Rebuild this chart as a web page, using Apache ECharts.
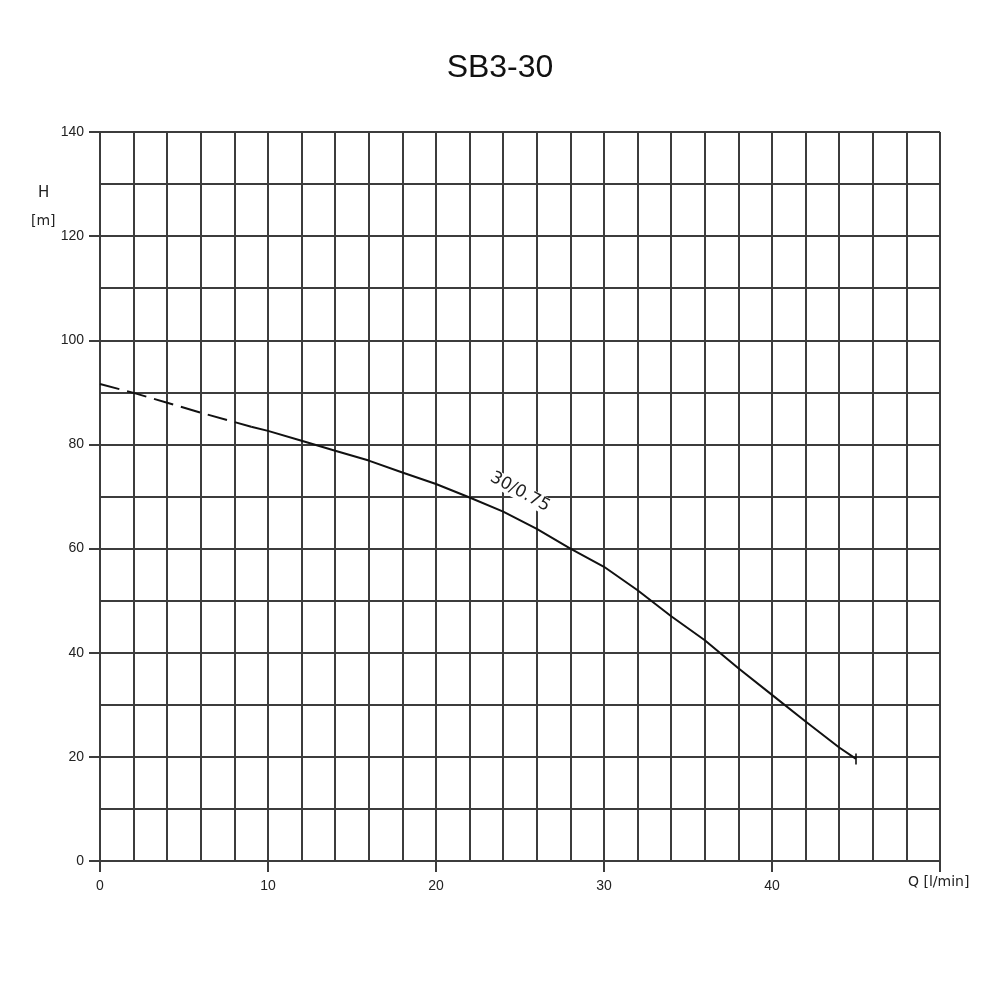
<!DOCTYPE html>
<html>
<head>
<meta charset="utf-8">
<script src="https://cdn.jsdelivr.net/npm/echarts@6/dist/echarts.min.js"></script>
<style>
  html, body { margin: 0; padding: 0; background: #fff; }
  #chart { width: 1000px; height: 1000px; }
</style>
</head>
<body>
<div id="chart"></div>
<script>
// pump curve SB3-30, flow Q in l/min, head H in m
const flowDashed = [0, 2, 4, 6, 8, 9];
const headDashed = [91.6, 89.9, 88.0, 86.1, 84.3, 83.4];
const flowSolid = [9, 10, 12, 14, 16, 18, 20, 22, 24, 26, 28, 30, 32, 34, 36, 38, 40, 42, 44, 45];
const headSolid = [83.4, 82.6, 80.7, 78.8, 76.9, 74.6, 72.4, 69.8, 67.1, 63.8, 60.0, 56.5, 52.0, 47.0, 42.4, 37.0, 31.9, 26.8, 21.8, 19.6];
const endPoint = [45, 19.6];
const xTicks = [0, 10, 20, 30, 40];
const yTicks = [0, 20, 40, 60, 80, 100, 120, 140];

const gridLine = { color: '#3c3c3c', width: 2 };
const labelFont = { color: '#222', fontSize: 14, fontFamily: 'Liberation Sans' };

const chart = echarts.init(document.getElementById('chart'));

const zip = (xs, ys) => xs.map((x, i) => [x, ys[i]]);

chart.setOption({
  backgroundColor: '#fff',
  animation: false,
  title: {
    text: 'SB3-30',
    left: 'center',
    top: 47,
    textStyle: { fontFamily: 'Liberation Sans', fontSize: 32, fontWeight: 'normal', color: '#111' }
  },
  grid: { left: 100, right: 60, top: 132, bottom: 139 },
  xAxis: {
    type: 'value',
    min: 0,
    max: 50,
    interval: 10,
    axisLine: { show: true, onZero: false, lineStyle: gridLine },
    axisTick: { show: true, length: 11, lineStyle: gridLine },
    axisLabel: Object.assign({
      margin: 18,
      formatter: v => (xTicks.indexOf(v) >= 0 ? String(v) : '')
    }, labelFont),
    splitLine: { show: true, lineStyle: gridLine },
    minorTick: { show: false, splitNumber: 5 },
    minorSplitLine: { show: true, lineStyle: gridLine }
  },
  yAxis: {
    type: 'value',
    min: 0,
    max: 140,
    interval: 20,
    axisLine: { show: true, onZero: false, lineStyle: gridLine },
    axisTick: { show: true, length: 11, lineStyle: gridLine },
    axisLabel: Object.assign({
      margin: 16,
      formatter: v => (yTicks.indexOf(v) >= 0 ? String(v) : '')
    }, labelFont),
    splitLine: { show: true, lineStyle: gridLine },
    minorTick: { show: false, splitNumber: 2 },
    minorSplitLine: { show: true, lineStyle: gridLine }
  },
  series: [
    {
      name: 'dashed',
      type: 'line',
      data: zip(flowDashed, headDashed),
      showSymbol: false,
      lineStyle: { color: '#111', width: 2, type: [20, 8] },
      z: 3
    },
    {
      name: '30/0.75',
      type: 'line',
      data: zip(flowSolid, headSolid),
      showSymbol: false,
      lineStyle: { color: '#111', width: 2 },
      z: 3
    },
    {
      name: 'end',
      type: 'scatter',
      data: [endPoint],
      symbol: 'rect',
      symbolSize: [2, 11],
      itemStyle: { color: '#111' },
      z: 4
    }
  ],
  graphic: [
    {
      type: 'text',
      left: 38,
      top: 186,
      style: { text: 'H', fontSize: 15, fontFamily: 'DejaVu Sans', fill: '#222' }
    },
    {
      type: 'text',
      left: 31,
      top: 214,
      style: { text: '[m]', fontSize: 14, fontFamily: 'DejaVu Sans', fill: '#222' }
    },
    {
      type: 'text',
      left: 908,
      top: 875,
      style: { text: 'Q [l/min]', fontSize: 14, fontFamily: 'DejaVu Sans', fill: '#222' }
    },
    {
      type: 'text',
      x: 520,
      y: 492,
      rotation: -0.5,
      z: 10,
      style: {
        text: '30/0.75',
        fontSize: 17,
        fontFamily: 'DejaVu Sans',
        fill: '#222',
        align: 'center',
        verticalAlign: 'middle',
        backgroundColor: '#fff',
        padding: [0, 2]
      }
    }
  ]
});
</script>
</body>
</html>
